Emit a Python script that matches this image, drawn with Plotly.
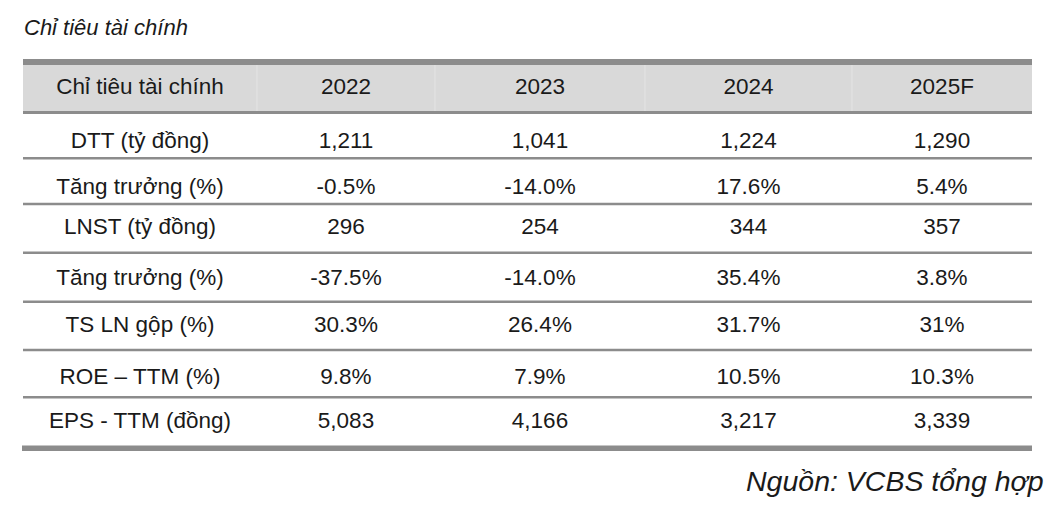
import plotly.graph_objects as go

# ---- data ----
header_label = "Chỉ tiêu tài chính"
years = ["2022", "2023", "2024", "2025F"]
row_labels = ["DTT (tỷ đồng)", "Tăng trưởng (%)", "LNST (tỷ đồng)", "Tăng trưởng (%)",
              "TS LN gộp (%)", "ROE – TTM (%)", "EPS - TTM (đồng)"]
v2022 = ["1,211", "-0.5%", "296", "-37.5%", "30.3%", "9.8%", "5,083"]
v2023 = ["1,041", "-14.0%", "254", "-14.0%", "26.4%", "7.9%", "4,166"]
v2024 = ["1,224", "17.6%", "344", "35.4%", "31.7%", "10.5%", "3,217"]
v2025 = ["1,290", "5.4%", "357", "3.8%", "31%", "10.3%", "3,339"]
title_text = "Chỉ tiêu tài chính"
source_text = "Nguồn: VCBS tổng hợp"

# ---- layout grid (page-pixel units on the axes) ----
W, H = 1059, 528
PAGE_OFF = 8  # default body margin of the html page
col_edges = [23, 257, 435, 645, 852, 1032]
col_centers = [(a + b) / 2 for a, b in zip(col_edges[:-1], col_edges[1:])]
table_top = 62
header_bottom = 112.5
row_seps = [158.3, 204, 252.7, 301.7, 350, 397.3]
table_bottom = 448.3
text_y = [88, 142, 188, 228, 279, 326, 378, 422]

FONT = "Liberation Sans, Arial, sans-serif"
FS = 22.5
TXT = "#1a1a1a"
LINE = "#8c8c8c"

columns = [[header_label] + row_labels,
           [years[0]] + v2022,
           [years[1]] + v2023,
           [years[2]] + v2024,
           [years[3]] + v2025]

fig = go.Figure()

for ci, col in enumerate(columns):
    fig.add_trace(go.Scatter(
        x=[col_centers[ci]] * len(col), y=text_y, mode="text", text=col,
        textposition="middle center",
        textfont=dict(family=FONT, size=FS, color=TXT),
        hoverinfo="skip", showlegend=False))

shapes = []
# header background
shapes.append(dict(type="rect", xref="x", yref="y", x0=col_edges[0], x1=col_edges[-1],
                   y0=table_top, y1=header_bottom, fillcolor="#d9d9d9", line=dict(width=0),
                   layer="below"))
# faint column seams in header
for xe in col_edges[1:-1]:
    shapes.append(dict(type="line", xref="x", yref="y", x0=xe, x1=xe,
                       y0=table_top, y1=header_bottom, line=dict(color="#e4e4e4", width=1),
                       layer="below"))
# borders
shapes.append(dict(type="line", xref="x", yref="y", x0=col_edges[0], x1=col_edges[-1],
                   y0=table_top, y1=table_top, line=dict(color=LINE, width=6)))
shapes.append(dict(type="line", xref="x", yref="y", x0=col_edges[0], x1=col_edges[-1],
                   y0=header_bottom, y1=header_bottom, line=dict(color=LINE, width=3)))
for ys in row_seps:
    shapes.append(dict(type="line", xref="x", yref="y", x0=col_edges[0], x1=col_edges[-1],
                       y0=ys, y1=ys, line=dict(color=LINE, width=2.5)))
shapes.append(dict(type="line", xref="x", yref="y", x0=col_edges[0] - 1, x1=col_edges[-1],
                   y0=table_bottom, y1=table_bottom, line=dict(color=LINE, width=5.5)))

annotations = [
    dict(x=22, y=27, xref="x", yref="y", text=title_text, showarrow=False,
         xanchor="left", yanchor="middle",
         font=dict(family=FONT, size=22, color=TXT, style="italic")),
    dict(x=1046, y=481, xref="x", yref="y", text=source_text, showarrow=False,
         xanchor="right", yanchor="middle",
         font=dict(family=FONT, size=28.5, color=TXT, style="italic")),
]

fig.update_layout(
    width=W, height=H, margin=dict(l=0, r=0, t=0, b=0),
    paper_bgcolor="white", plot_bgcolor="white",
    xaxis=dict(range=[PAGE_OFF, W + PAGE_OFF], visible=False, fixedrange=True),
    yaxis=dict(range=[H + PAGE_OFF, PAGE_OFF], visible=False, fixedrange=True),
    shapes=shapes, annotations=annotations,
)

fig.write_html("out.html", config={"displayModeBar": False})
